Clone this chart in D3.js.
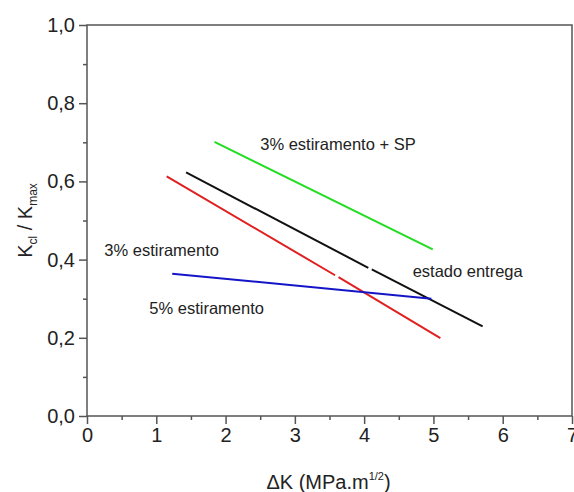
<!DOCTYPE html>
<html>
<head>
<meta charset="utf-8">
<script src="https://cdn.jsdelivr.net/npm/d3@7"></script>
<style>
  body { margin: 0; background: #fff; }
  text { font-family: "Liberation Sans", Arial, sans-serif; fill: #222; }
</style>
</head>
<body>
<div class="chart-area"></div>
<script>
// series: each is a list of segments [[x,y],...] (small gaps in the original lines)
const asReceived = [[[1.43, 0.623], [4.06, 0.379]], [[4.11, 0.375], [5.71, 0.229]]];
const stretch3 = [[[1.15, 0.613], [3.58, 0.360]], [[3.63, 0.355], [5.10, 0.199]]];
const stretch5 = [[[1.23, 0.364], [4.97, 0.300]]];
const stretch3SP = [[[1.84, 0.701], [4.99, 0.426]]];

const seriesNames = ["estado entrega", "3% estiramento", "5% estiramento", "3% estiramento + SP"];
const seriesColors = ["#111111", "#e02020", "#1515c8", "#22dd22"];
const labelPos = [[4.7, 0.37], [0.25, 0.425], [0.9, 0.275], [2.5, 0.695]]; // data coords of label starts

const xTicks = [0, 1, 2, 3, 4, 5, 6, 7];
const yTicks = [0, 0.2, 0.4, 0.6, 0.8, 1.0];

const width = 574, height = 492;
const margin = {left: 87, right: 2, top: 25, bottom: 76};

const svg = d3.select(".chart-area").append("svg")
  .attr("width", width).attr("height", height);

const x = d3.scaleLinear().domain([0, 7]).range([margin.left, width - margin.right]);
const y = d3.scaleLinear().domain([0, 1]).range([height - margin.bottom, margin.top]);

const axisColor = "#555";
const fmt = d => d3.format(".1f")(d).replace(".", ",");

// frame
svg.append("rect")
  .attr("x", x(0)).attr("y", y(1))
  .attr("width", x(7) - x(0)).attr("height", y(0) - y(1))
  .attr("fill", "none").attr("stroke", axisColor).attr("stroke-width", 1.5);

// x axis
const xAxis = svg.append("g").attr("transform", `translate(0,${y(0)})`);
xAxis.append("g")
  .call(d3.axisBottom(x).tickValues(d3.range(0.5, 7, 1)).tickSize(4).tickFormat(""))
  .call(g => g.select(".domain").remove());
xAxis.append("g")
  .call(d3.axisBottom(x).tickValues(xTicks).tickSize(8).tickPadding(4).tickFormat(d3.format("d")))
  .call(g => g.select(".domain").remove());
xAxis.selectAll("line").attr("stroke", axisColor).attr("stroke-width", 1.5);
xAxis.selectAll("text").attr("font-size", 20).attr("fill", "#222");

// y axis
const yAxis = svg.append("g").attr("transform", `translate(${x(0)},0)`);
yAxis.append("g")
  .call(d3.axisLeft(y).tickValues(d3.range(0.1, 1, 0.2)).tickSize(4).tickFormat(""))
  .call(g => g.select(".domain").remove());
yAxis.append("g")
  .call(d3.axisLeft(y).tickValues(yTicks).tickSize(8).tickPadding(4).tickFormat(fmt))
  .call(g => g.select(".domain").remove());
yAxis.selectAll("line").attr("stroke", axisColor).attr("stroke-width", 1.5);
yAxis.selectAll("text").attr("font-size", 20).attr("fill", "#222");

// lines
const line = d3.line().x(d => x(d[0])).y(d => y(d[1]));
const allSeries = [asReceived, stretch3, stretch5, stretch3SP];
allSeries.forEach((segs, i) => {
  svg.append("g").selectAll("path")
    .data(segs)
    .join("path")
    .attr("d", line)
    .attr("fill", "none")
    .attr("stroke", seriesColors[i])
    .attr("stroke-width", 2);
});

// series labels
svg.append("g").selectAll("text")
  .data(seriesNames)
  .join("text")
  .attr("x", (d, i) => x(labelPos[i][0]))
  .attr("y", (d, i) => y(labelPos[i][1]))
  .attr("dy", "0.35em")
  .attr("font-size", 16.5)
  .text(d => d);

// axis titles
const yt = svg.append("text")
  .attr("transform", `translate(32,${(y(0) + y(1)) / 2}) rotate(-90)`)
  .attr("text-anchor", "middle")
  .attr("font-size", 20);
yt.append("tspan").text("K");
yt.append("tspan").text("cl").attr("font-size", 12).attr("dy", 5);
yt.append("tspan").text(" / K").attr("dy", -5);
yt.append("tspan").text("max").attr("font-size", 12).attr("dy", 5);

const xt = svg.append("text")
  .attr("x", (x(0) + x(7)) / 2 - 1)
  .attr("y", 489)
  .attr("text-anchor", "middle")
  .attr("font-size", 20);
xt.append("tspan").text("\u0394K (MPa.m");
xt.append("tspan").text("1/2").attr("font-size", 11).attr("dy", -9);
xt.append("tspan").text(")").attr("dy", 9);
</script>
</body>
</html>
